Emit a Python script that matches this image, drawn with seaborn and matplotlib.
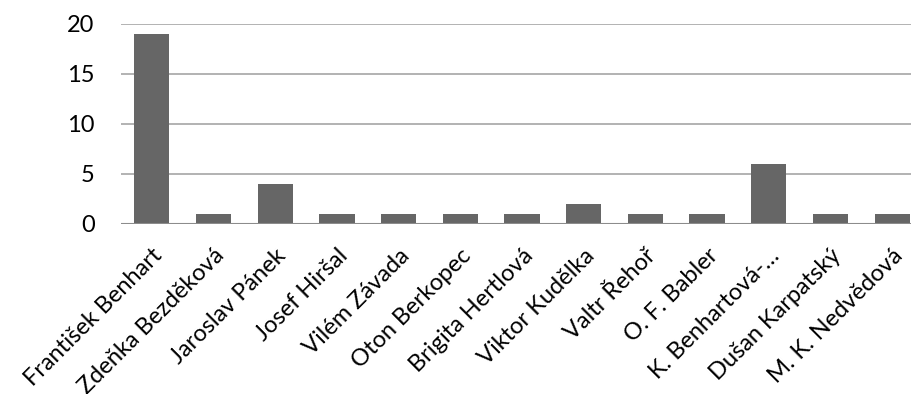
import matplotlib
matplotlib.use("Agg")
import matplotlib.pyplot as plt
import seaborn as sns
import pandas as pd

categories = ["František Benhart", "Zdeňka Bezděková", "Jaroslav Pánek", "Josef Hiršal",
              "Vilém Závada", "Oton Berkopec", "Brigita Hertlová", "Viktor Kudělka",
              "Valtr Řehoř", "O. F. Babler", "K. Benhartová-…", "Dušan Karpatský",
              "M. K. Nedvědová"]
values = [19, 1, 4, 1, 1, 1, 1, 2, 1, 1, 6, 1, 1]
yticks = [0, 5, 10, 15, 20]

sns.set_theme(style="white")
plt.rcParams['font.family'] = ['Lato', 'DejaVu Sans']

df = pd.DataFrame({"name": categories, "value": values})

fig = plt.figure(figsize=(9.12, 3.94), dpi=100)
ax = fig.add_axes([121/912, (394-224)/394, (923-121)/912, 200/394])
sns.barplot(data=df, x="name", y="value", color="#666666", width=0.57,
            saturation=1, ax=ax, zorder=3)
for p in ax.patches:
    p.set_edgecolor("none")

ax.set_xlim(-0.5, len(categories) - 0.5)
ax.set_ylim(0, 20)
ax.set_yticks(yticks)
ax.set_yticklabels([str(v) for v in yticks], fontsize=17, color="black")
for y in yticks[1:]:
    ax.axhline(y, color="#a6a6a6", lw=1.2, zorder=1)
ax.axhline(0, color="#8c8c8c", lw=1.5, zorder=4)
for s in ax.spines.values():
    s.set_visible(False)
ax.tick_params(axis="both", length=0)
ax.tick_params(axis="y", pad=19)
ax.set_xlabel("")
ax.set_ylabel("")
ax.set_xticks(range(len(categories)))
ax.set_xticklabels(categories, rotation=45, ha="right", va="top",
                   rotation_mode="anchor", fontsize=17, color="black")
ax.tick_params(axis="x", pad=15)

fig.savefig("out.png", dpi=100)
